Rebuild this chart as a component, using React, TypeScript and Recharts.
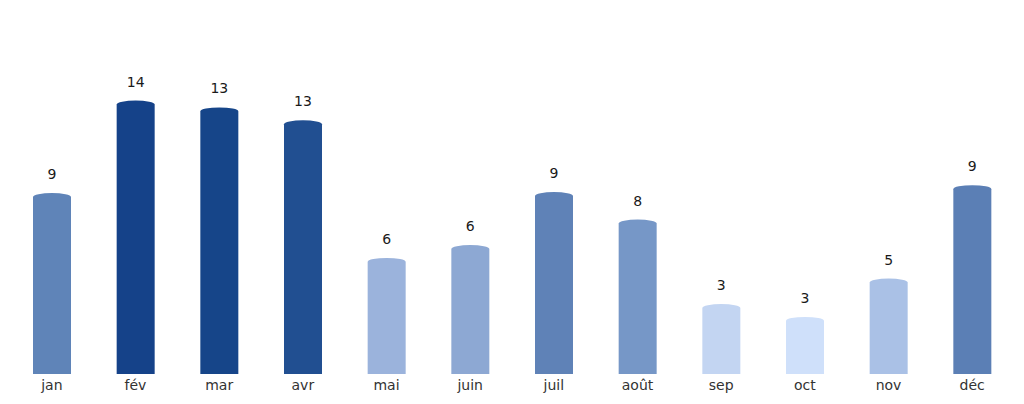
import { Bar, BarChart, Cell, LabelList, XAxis, YAxis } from "recharts";

const MONTHS = ["jan", "fév", "mar", "avr", "mai", "juin", "juil", "août", "sep", "oct", "nov", "déc"];
const VALUES = [9.0, 13.7, 13.35, 12.7, 5.7, 6.35, 9.05, 7.65, 3.35, 2.7, 4.65, 9.4];
const COLORS = [
  "#5f84b8",
  "#154289",
  "#164589",
  "#214f91",
  "#9bb3dc",
  "#8da8d3",
  "#5f82b7",
  "#7697c7",
  "#c3d5f2",
  "#cfe0fa",
  "#aac1e6",
  "#5b7fb5",
];

const data = MONTHS.map((name, i) => ({ name, value: VALUES[i] }));

const CAP = 4;

// bar drawn as a cylinder: straight body + elliptical cap
function Cylinder(props: any) {
  const { x, y, width, height, fill } = props;
  if (!height || height <= 0) return null;
  const rx = width / 2;
  const bottom = y + height;
  const d = `M${x},${bottom} L${x},${y} A${rx},${CAP} 0 0 1 ${x + width},${y} L${x + width},${bottom} Z`;
  return <path d={d} fill={fill} />;
}

function TopLabel(props: any) {
  const { x, y, width, value } = props;
  return (
    <text
      x={x + width / 2}
      y={y - 18}
      textAnchor="middle"
      fontSize={14}
      fill="#1a1a1a"
      fontFamily="DejaVu Sans"
    >
      {Math.round(value)}
    </text>
  );
}

export default function App() {
  return (
    <div style={{ position: "absolute", left: 0, top: 0, background: "#fff" }}>
      <BarChart
        width={1024}
        height={404}
        data={data}
        margin={{ top: 20, right: 10, left: 10, bottom: 0 }}
      >
        <XAxis
          dataKey="name"
          axisLine={false}
          tickLine={false}
          tickSize={4}
          tickMargin={2}
          height={30}
          interval={0}
          tick={{ fontSize: 14, fill: "#333", fontFamily: "DejaVu Sans" }}
        />
        <YAxis hide domain={[0, 18]} />
        <Bar dataKey="value" barSize={38} shape={<Cylinder />} isAnimationActive={false}>
          {data.map((_, i) => (
            <Cell key={`cell-${i}`} fill={COLORS[i]} />
          ))}
          <LabelList dataKey="value" content={<TopLabel />} />
        </Bar>
      </BarChart>
    </div>
  );
}
